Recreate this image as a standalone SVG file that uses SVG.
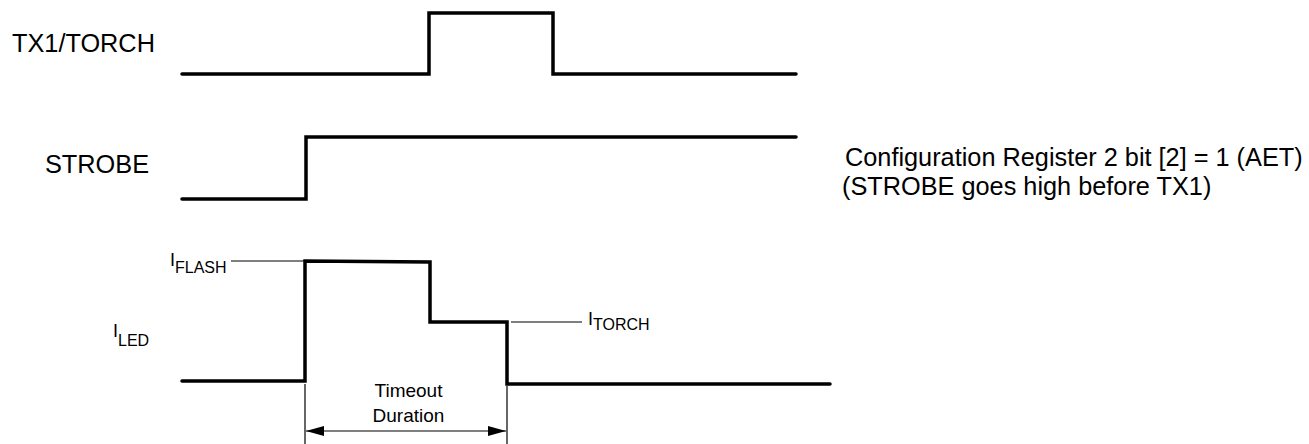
<svg xmlns="http://www.w3.org/2000/svg" width="1309" height="444" viewBox="0 0 1309 444">
<style>
text{font-family:"Liberation Sans",Arial,sans-serif;fill:#000}
.lbl{font-size:25.3px}
.i{font-size:18px}
.sub{font-size:16px}
.small{font-size:19px}
.wave{fill:none;stroke:#000;stroke-width:3.5;stroke-linejoin:miter;stroke-linecap:round}
.thin{fill:none;stroke:#000;stroke-width:1.2}
</style>
<defs>
<marker id="ah" viewBox="0 0 18 10" refX="18" refY="5" markerWidth="18" markerHeight="10" markerUnits="userSpaceOnUse" orient="auto-start-reverse">
<path d="M0,0 L18,5 L0,10 Z" fill="#000"/>
</marker>
</defs>
<g id="tx1">
<text class="lbl" x="12" y="52">TX1/TORCH</text>
<polyline class="wave" points="182,74 429,74 429,13 553,13 553,74 796,74"/>
</g>
<g id="strobe">
<text class="lbl" x="45" y="173">STROBE</text>
<polyline class="wave" points="182,199 306,199 306,137 796,137"/>
</g>
<g id="iled">
<text x="113" y="337"><tspan class="i">I</tspan><tspan class="sub" dy="8.5">LED</tspan></text>
<polyline class="wave" points="182,381 305,381 305,261 430,262 430,322 507,322 507,384 830,384"/>
</g>
<g id="iflash">
<text x="170" y="265.5"><tspan class="i">I</tspan><tspan class="sub" dy="7.5">FLASH</tspan></text>
</g>
<g id="itorch">
<text x="588" y="325"><tspan class="i">I</tspan><tspan class="sub" dy="5">TORCH</tspan></text>
</g>
<g id="note">
<text class="lbl" x="845" y="166">Configuration Register 2 bit [2] = 1 (AET)</text>
<text class="lbl" x="842" y="195">(STROBE goes high before TX1)</text>
</g>
<g id="timeout">
<text class="small" x="408.5" y="396.5" text-anchor="middle">Timeout</text>
<text class="small" x="408.5" y="421.5" text-anchor="middle">Duration</text>
</g>
<g id="connectors">
<line class="thin" x1="231" y1="261" x2="304" y2="261"/>
<line class="thin" x1="511" y1="322" x2="582" y2="322"/>
<line class="thin" x1="305" y1="384" x2="305" y2="444"/>
<line class="thin" x1="507" y1="386" x2="507" y2="444"/>
<line class="thin" x1="306" y1="431" x2="506" y2="431" marker-start="url(#ah)" marker-end="url(#ah)"/>
</g>
</svg>
